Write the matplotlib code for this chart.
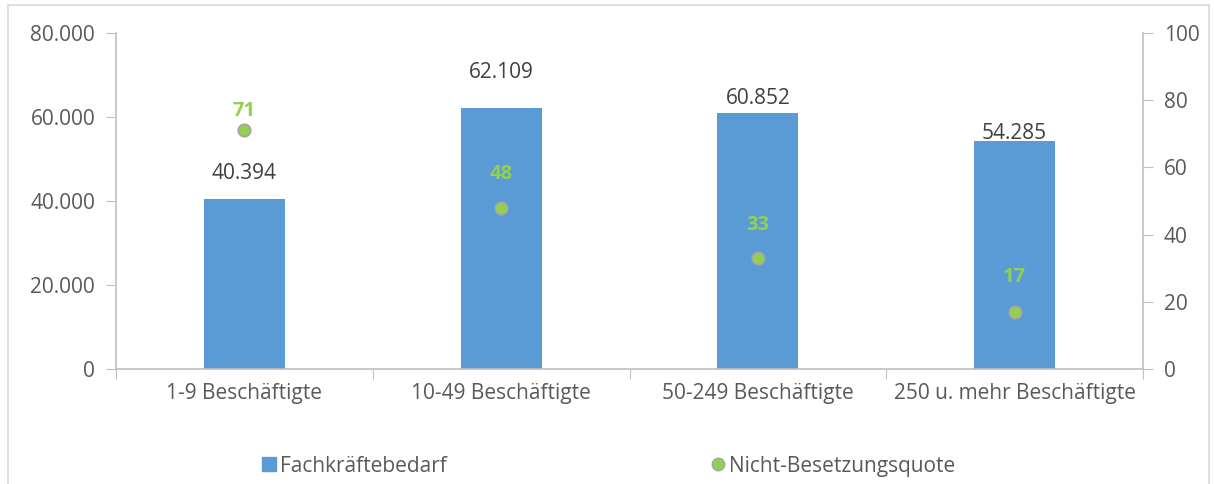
import matplotlib.pyplot as plt
from matplotlib.patches import Rectangle
from matplotlib.lines import Line2D

plt.rcParams['font.family'] = ['Open Sans', 'DejaVu Sans']

categories = ['1-9 Beschäftigte', '10-49 Beschäftigte', '50-249 Beschäftigte', '250 u. mehr Beschäftigte']
bedarf = [40394, 62109, 60852, 54285]
quote = [71, 48, 33, 17]
bedarf_labels = ['40.394', '62.109', '60.852', '54.285']
left_ticks = [0, 20000, 40000, 60000, 80000]
left_ticklabels = ['0', '20.000', '40.000', '60.000', '80.000']
right_ticks = [0, 20, 40, 60, 80, 100]

bar_col = '#5B9BD5'
dot_col = '#92D050'
axis_col = '#BFBFBF'
text_col = '#595959'

fig = plt.figure(figsize=(12.14, 4.84), dpi=100)
ax = fig.add_axes([0.0956, 0.2376, 0.8459, 0.6942])
ax2 = ax.twinx()

x = list(range(len(categories)))
ax.bar(x, bedarf, width=0.315, color=bar_col, zorder=2)
ax.set_ylim(0, 80000)
ax.set_xlim(-0.5, len(categories) - 0.5)

# bar value labels (offsets in points, Excel nudges some of them)
bar_offsets = [18.5, 26, 11, 5.5]
for xi, v, lab, off in zip(x, bedarf, bedarf_labels, bar_offsets):
    ax.annotate(lab, (xi, v), xytext=(0, off), textcoords='offset points',
                ha='center', va='center', fontsize=15, color='#404040')

ax2.plot(x, quote, 'o', ms=9, mfc=dot_col, mec='#A5A5A5', mew=1.2, zorder=3)
ax2.set_ylim(0, 100)
dot_offsets = [14, 24, 24, 25]
for xi, v, off in zip(x, quote, dot_offsets):
    ax2.annotate(str(v), (xi, v), xytext=(0, off), textcoords='offset points',
                 ha='center', va='center', fontsize=14.5, fontweight='bold', color=dot_col)

ax.set_yticks(left_ticks)
ax.set_yticklabels(left_ticklabels)
ax2.set_yticks(right_ticks)

# category boundary ticks on x axis
ax.set_xticks([i - 0.5 for i in range(len(categories) + 1)])
ax.set_xticklabels([])
ax.set_xticks(x, minor=True)
ax.set_xticklabels(categories, minor=True)
ax.tick_params(axis='x', which='minor', length=0, pad=10, labelsize=15, labelcolor=text_col)
ax.tick_params(axis='x', which='major', length=7, color=axis_col)

for a in (ax, ax2):
    for s in a.spines.values():
        s.set_visible(False)
ax.spines['left'].set_visible(True)
ax.spines['bottom'].set_visible(True)
ax2.spines['right'].set_visible(True)
for s in (ax.spines['left'], ax.spines['bottom'], ax2.spines['right']):
    s.set_color(axis_col)
    s.set_linewidth(1.2)

ax.tick_params(axis='y', length=7, color=axis_col, labelsize=15, labelcolor=text_col, pad=8)
ax2.tick_params(axis='y', length=7, color=axis_col, labelsize=15, labelcolor=text_col, pad=8)

handles = [Line2D([], [], marker='s', ls='', ms=10, mfc=bar_col, mec=bar_col),
           Line2D([], [], marker='o', ls='', ms=9, mfc=dot_col, mec='#A5A5A5')]
fig.legend(handles, ['Fachkräftebedarf', 'Nicht-Besetzungsquote'], loc='center left',
           bbox_to_anchor=(262 / 1214, 0.037), ncol=2, frameon=False, fontsize=15,
           handlelength=0.7, handletextpad=0.15, columnspacing=12.7, labelcolor=text_col,
           borderpad=0, borderaxespad=0)

# outer chart frame
fig.patches.append(Rectangle((8 / 1214, -0.1), 1201 / 1214, 1.1 - 5 / 484,
                             transform=fig.transFigure, fill=False, ec='#D9D9D9', lw=1.2))

fig.savefig('out.png', dpi=100)
